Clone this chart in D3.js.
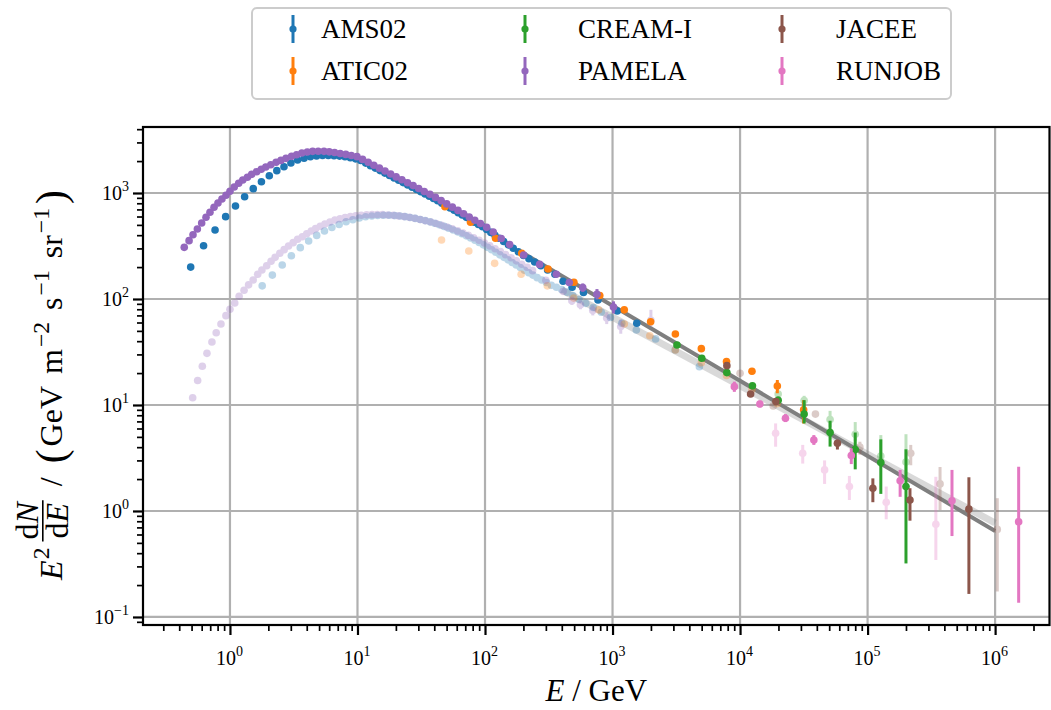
<!DOCTYPE html>
<html>
<head>
<meta charset="utf-8">
<script src="https://cdn.jsdelivr.net/npm/d3@7"></script>
<style>
  body { margin: 0; background: #fff; }
  text { font-family: "Liberation Serif", "DejaVu Serif", serif; fill: #000; }
</style>
</head>
<body>
<svg id="chart" width="1051" height="710"></svg>
<script>
// ---- data: [E (GeV), E^2 dN/dE, errLow, errHigh] ----
// protons (solid) and helium (faded)

var ams02_p = [[0.492,200],[0.621,318],[0.764,448],[0.925,598],[1.105,754],[1.303,923],[1.523,1099],[1.765,1278],
 [2.034,1456],[2.330,1624],[2.652,1770],[3.005,1918],[3.390,2047],[3.811,2124],[4.272,2200],[4.775,2235],
 [5.318,2255],[5.907,2260],[6.546,2250],[7.236,2230],[7.982,2195],[8.787,2155],[9.654,2100],[10.60,2023],
 [11.60,1914],[12.65,1812],[13.79,1717],[15.04,1626],[16.39,1541],[17.84,1462],[19.38,1387],[21.03,1318],
 [22.83,1253],[24.78,1191],[26.83,1132],[29.03,1079],[31.38,1028],[33.87,980],[36.57,933],[39.47,889],
 [42.57,845],[45.87,802],[49.42,761],[53.22,723],[57.27,687],[61.62,652],[66.32,619],[71.37,589],
 [76.77,558],[82.57,531],[88.82,505],[95.57,480],[103.1,453],[111.1,425],[119.6,399],[129.1,374],
 [140.1,349],[152.6,324],[166.6,301],[182.6,279],[200.6,257],[221.1,240],[245.1,223],[274.1,206],
 [309.6,188],[353.6,171],[409.1,147],[482.1,129],[591.6,115],[769.1,98],[1089,77],[1549,59]];

var ams02_he = [[1.79,133],[2.15,168],[2.57,209],[3.03,256],[3.56,305],[4.14,352],[4.79,398],[5.51,438],
 [6.30,472],[7.18,505],[8.14,535],[9.19,560],[10.34,580],[11.58,596],[12.94,607],[14.40,614],[15.99,617],
 [17.70,616],[19.58,612],[21.55,606],[23.63,598],[25.91,588],[28.39,576],[31.07,563],[33.96,549],[37.04,534],
 [40.33,518],[43.92,501],[47.81,484],[51.90,466],[56.29,448],[60.98,430],[65.97,412],[71.36,394],[77.16,376],
 [83.35,358],[89.95,341],[97.04,324],[104.6,307],[112.7,291],[121.4,276],[130.8,261],[140.9,247],[151.7,234],
 [163.3,221],[175.8,209],[189.3,198],[204.3,187],[220.3,177],[237.3,168],[256.3,159],[278.3,151],[303.3,143],
 [331.3,135],[363.3,129],[399.3,123],[440.3,116],[488.3,108],[546.3,99],[617.3,91],[705.3,83],[816.3,75],
 [962.3,67],[1181,59],[1536,51],[2176,42],[3096,33],[4796,23]];

var atic02_p = [[48.5,743],[77,530],[121,374],[194,270],[312,192],[498,144],[794,108],[1236,79],[1990,61],
 [3110,46.7],[4970,34],[7830,25.7,24,27.5],[12400,20.8,19.5,22.3],[19600,15.1,12.9,17.2],[31500,9.0,6.7,11.1]];

var atic02_he = [[45.6,360],[74.6,284],[119,217],[192,171],[308,133],[496,102],[779,79],[1236,58],[1960,45],
 [3110,33],[4970,25],[7830,19],[12400,14],[19600,10.3]];

var cream_p = [[3200,36.8],[5010,27.6],[7880,20.2],[12500,15.2],[19900,11.1,10.3,12.0],[31800,8.2,6.7,11.1],
 [50800,5.5,4.05,7.1],[80000,3.8,2.47,5.5],[127000,2.86,1.45,4.74],[200000,1.70,0.32,3.82]];

var cream_he = [[19900,12.7,12.0,13.5],[31800,11.0,9.7,12.2],[50800,7.3,6.2,8.8],[80000,5.3,4.6,6.9],
 [127000,3.3,2.6,5.2],[200000,2.9,2.2,5.3]];

var pamela_p = [[0.438,307],[0.478,355],[0.513,404],[0.555,458],[0.600,521],[0.649,590],[0.697,658],[0.750,733],
 [0.805,805],[0.865,878],[0.931,951],[1.0,1038],[1.08,1140],[1.17,1234],[1.26,1326],[1.37,1406],[1.48,1500],
 [1.62,1589],[1.76,1675],[1.91,1758],[2.09,1849],[2.30,1950],[2.51,2031],[2.75,2122],[3.04,2217],[3.33,2296],
 [3.66,2383],[4.04,2437],[4.45,2472],[4.92,2480],[5.46,2470],[6.0,2445],[6.61,2410],[7.31,2361],[8.09,2312],
 [8.95,2259],[9.91,2203],[10.96,2075],[12.13,1948],[13.43,1828],[14.86,1716],[16.44,1611],[18.2,1512],
 [20.1,1419],[22.3,1332],[24.7,1250],[27.3,1174],[30.2,1102],[33.4,1034],[37.0,971],[40.9,909],[45.3,847],
 [50.1,789],[55.5,735],[61.4,685],[67.9,638],[75.2,594],[83.2,553],[92.0,516],[103,474],[116,429],[134,372],
 [156,326],[201,260,252,268],[268,212,204,220],[362,171,163,180],[458,143,134,153],[584,128,117,140],
 [755,111,99,124],[1017,84,73,95]];

var pamela_he = [[0.51,11.7],[0.558,17],[0.607,23.2],[0.66,30.7],[0.722,39.3],[0.78,48],[0.85,58],[0.93,69.6],
 [1.0,80],[1.09,91.6],[1.18,106],[1.29,121],[1.40,136],[1.52,151],[1.65,171],[1.78,188],[1.94,206],[2.10,227],
 [2.26,247],[2.46,270],[2.66,292],[2.88,316],[3.13,340],[3.39,366],[3.69,387],[4.0,413],[4.34,438],[4.69,461],
 [5.10,485],[5.55,510],[6.08,532],[6.65,556],[7.3,572],[8.0,588],[8.8,600],[9.7,610],[10.7,617],[11.8,622],
 [13.0,625],[14.3,626],[15.7,625],[17.3,621],[19.1,615],[21.0,608],[23.2,599],[25.5,589],[28.1,577],[31.0,563],
 [34.1,548],[37.6,532],[41.4,515],[45.6,497],[50.2,478],[55.3,459],[61,439],[67.2,419],[74,398],[81.5,378],
 [89.8,358],[99,337],[109,317],[120,298],[132,280],[145,262],[160,245],[176,229],[194,213],[214,199],[236,185],
 [300,150,143,158],[410,118,110,127],[480,96,88,105],[560,88,80,97],[700,78,70,87],[900,66,58,75],
 [1160,55,47,64],[2000,63,55,79]];

var jacee_p = [[7880,23.5],[12100,12.7],[19100,10.8],[58000,4.35,3.8,4.7],[110000,1.64,1.21,2.03],
 [215000,1.27,0.81,1.64],[623000,1.04,0.165,2.08]];

var jacee_he = [[10000,19.9],[18200,9.8],[39000,8.2],[87000,4.0,3.4,4.5],[218000,3.5,2.7,4.2],
 [370000,1.8,1.02,2.6],[1040000,0.67,0.174,1.32]];

var runjob_p = [[9020,14.9,13.3,16.6],[14300,10.2,9.5,11],[22700,7.5,6.9,8.2],[37900,4.67,4.2,5.2],
 [74500,3.33,2.77,3.9],[180000,1.93,1.36,2.44],[459000,1.25,0.58,2.44],[1530000,0.79,0.136,2.62]];

var runjob_he = [[19000,5.4,4.04,6.7],[31000,3.5,2.8,4.2],[46000,2.44,1.8,3.0],[72000,1.70,1.27,2.14],
 [140000,1.21,0.835,1.70],[343000,0.75,0.345,2.1]];

// power-law fits, end points [E, flux]
var fit_p = [[190, 280], [1e6, 0.648]];
var fit_he = [[400, 122], [1e6, 0.77]];

var xTicks = [1, 10, 100, 1e3, 1e4, 1e5, 1e6];
var yTicks = [0.1, 1, 10, 100, 1000];

var legendNames = ["AMS02", "ATIC02", "CREAM-I", "PAMELA", "JACEE", "RUNJOB"];
var colors = {AMS02:"#1f77b4", ATIC02:"#ff7f0e", "CREAM-I":"#2ca02c", PAMELA:"#9467bd", JACEE:"#8c564b", RUNJOB:"#e377c2"};

var experiments = [
  {name:"AMS02", p:ams02_p, he:ams02_he},
  {name:"ATIC02", p:atic02_p, he:atic02_he},
  {name:"CREAM-I", p:cream_p, he:cream_he},
  {name:"PAMELA", p:pamela_p, he:pamela_he},
  {name:"JACEE", p:jacee_p, he:jacee_he},
  {name:"RUNJOB", p:runjob_p, he:runjob_he}
];

// ---- layout ----
var svg = d3.select("#chart");
var L = 143, R = 1049.5, T = 127, B = 625;
var x = d3.scaleLog().domain([0.208, 2.67e6]).range([L, R]);
var y = d3.scaleLog().domain([0.084, 4194]).range([B, T]);

svg.append("defs").append("clipPath").attr("id","plotclip")
  .append("rect").attr("x",L).attr("y",T).attr("width",R-L).attr("height",B-T);

// grid
var grid = svg.append("g");
grid.selectAll(".gx").data(xTicks).enter().append("line")
  .attr("x1",d=>x(d)).attr("x2",d=>x(d)).attr("y1",T).attr("y2",B)
  .attr("stroke","#b0b0b0").attr("stroke-width",2.2);
grid.selectAll(".gy").data(yTicks).enter().append("line")
  .attr("y1",d=>y(d)).attr("y2",d=>y(d)).attr("x1",L).attr("x2",R)
  .attr("stroke","#b0b0b0").attr("stroke-width",2.2);

var plot = svg.append("g").attr("clip-path","url(#plotclip)");

// fit lines
var line = d3.line().x(d=>x(d[0])).y(d=>y(d[1]));
plot.append("path").datum(fit_he).attr("d",line).attr("fill","none")
  .attr("stroke","#808080").attr("stroke-opacity",0.3).attr("stroke-width",7);
plot.append("path").datum(fit_p).attr("d",line).attr("fill","none")
  .attr("stroke","#7f7f7f").attr("stroke-width",4);

function drawSeries(data, color, alpha){
  var g = plot.append("g").attr("opacity", alpha);
  var bars = data.filter(d=>d.length > 2);
  g.selectAll("line").data(bars).enter().append("line")
    .attr("x1",d=>x(d[0])).attr("x2",d=>x(d[0]))
    .attr("y1",d=>y(d[2])).attr("y2",d=>y(d[3]))
    .attr("stroke",color).attr("stroke-width",3);
  g.selectAll("circle").data(data).enter().append("circle")
    .attr("cx",d=>x(d[0])).attr("cy",d=>y(d[1])).attr("r",3.8)
    .attr("fill",color);
}
experiments.forEach(function(e){ drawSeries(e.he, colors[e.name], 0.3); });
experiments.forEach(function(e){ drawSeries(e.p, colors[e.name], 1); });

// ---- axes ----
function minors(lo, hi){
  var out = [];
  for (var k = lo; k <= hi; k++) for (var m = 2; m <= 9; m++) out.push(m*Math.pow(10,k));
  return out;
}
var xMinor = minors(-1, 6).filter(v=>v>=0.208 && v<=2.67e6);
var yMinor = minors(-2, 3).filter(v=>v>=0.084 && v<=4194);

var gxMin = svg.append("g").attr("transform","translate(0,"+B+")")
  .call(d3.axisBottom(x).tickValues(xMinor).tickSize(6).tickFormat(""));
var gyMin = svg.append("g").attr("transform","translate("+L+",0)")
  .call(d3.axisLeft(y).tickValues(yMinor).tickSize(6).tickFormat(""));
[gxMin, gyMin].forEach(function(g){
  g.select(".domain").remove();
  g.selectAll("line").attr("stroke","#000").attr("stroke-width",1.7);
});

var gx = svg.append("g").attr("transform","translate(0,"+B+")")
  .call(d3.axisBottom(x).tickValues(xTicks).tickSize(10).tickFormat(""));
var gy = svg.append("g").attr("transform","translate("+L+",0)")
  .call(d3.axisLeft(y).tickValues(yTicks).tickSize(10).tickFormat(""));
[gx, gy].forEach(function(g){
  g.select(".domain").remove();
  g.selectAll("line").attr("stroke","#000").attr("stroke-width",2.2);
});

function powLabel(sel, d){
  var e = Math.round(Math.log10(d));
  sel.text("10");
  sel.append("tspan").attr("dy",-9).attr("font-size",14).text(e < 0 ? "\u2212" + (-e) : e);
}
gx.selectAll(".tick").append("text")
  .attr("y",40).attr("x",-1).attr("text-anchor","middle").attr("font-size",20)
  .each(function(d){ powLabel(d3.select(this), d); });
gy.selectAll(".tick").append("text")
  .attr("x",-14).attr("dy","0.35em").attr("text-anchor","end").attr("font-size",20)
  .each(function(d){ powLabel(d3.select(this), d); });

// frame
svg.append("rect").attr("x",L).attr("y",T).attr("width",R-L).attr("height",B-T)
  .attr("fill","none").attr("stroke","#000").attr("stroke-width",2.2);

// x label
var xl = svg.append("text").attr("x",(L+R)/2).attr("y",701).attr("text-anchor","middle").attr("font-size",31);
xl.append("tspan").attr("font-style","italic").text("E");
xl.append("tspan").text(" / GeV");

// y label: E^2 dN/dE / (GeV m^-2 s^-1 sr^-1)
(function(){
  var S = 32, SS = S*0.74;
  var g = svg.append("g");
  var cx = 0;
  function put(str, o){
    o = o || {};
    var t = g.append("text").attr("x",cx).attr("y",o.y||0).attr("font-size",o.size||S)
      .attr("font-style",o.italic?"italic":"normal").text(str);
    cx += t.node().getComputedTextLength() + (o.gap||0);
    return t;
  }
  put("E",{italic:true, gap:1});
  put("2",{size:SS, y:-S*0.42, gap:6});
  // fraction
  var fx = cx;
  var num = g.append("text").attr("y",-S*0.74).attr("font-size",S);
  num.append("tspan").text("d"); num.append("tspan").attr("font-style","italic").text("N");
  var den = g.append("text").attr("y",S*0.18).attr("font-size",S);
  den.append("tspan").text("d"); den.append("tspan").attr("font-style","italic").text("E");
  var wn = num.node().getComputedTextLength(), wd = den.node().getComputedTextLength();
  var w = Math.max(wn, wd) + 4;
  num.attr("x", fx + (w-wn)/2); den.attr("x", fx + (w-wd)/2);
  g.append("line").attr("x1",fx).attr("x2",fx+w).attr("y1",-S*0.6).attr("y2",-S*0.6)
    .attr("stroke","#000").attr("stroke-width",1.6);
  cx += w + 14;
  put("/",{gap:14});
  put("(",{size:S*1.3, y:S*0.1, gap:3});
  put("GeV",{gap:12});
  put("m",{gap:2});
  put("\u22122",{size:SS, y:-S*0.42, gap:12});
  put("s",{gap:2});
  put("\u22121",{size:SS, y:-S*0.42, gap:12});
  put("sr",{gap:2});
  put("\u22121",{size:SS, y:-S*0.42, gap:4});
  put(")",{size:S*1.3, y:S*0.1});
  g.attr("transform","translate(62,385) rotate(-90) translate("+(-cx/2)+",0)");
})();

// ---- legend ----
var lg = svg.append("g");
lg.append("rect").attr("x",252).attr("y",8).attr("width",699).attr("height",91).attr("rx",5)
  .attr("fill","#fff").attr("fill-opacity",0.8).attr("stroke","#cccccc").attr("stroke-width",2);
var colX = [293, 525, 782], txtX = [321, 578, 836], rowY = [29, 71];
legendNames.forEach(function(n, i){
  var c = Math.floor(i/2), r = i%2;
  var mx = colX[c], my = rowY[r];
  lg.append("line").attr("x1",mx).attr("x2",mx).attr("y1",my-14).attr("y2",my+14)
    .attr("stroke",colors[n]).attr("stroke-width",3);
  lg.append("circle").attr("cx",mx).attr("cy",my).attr("r",3.6).attr("fill",colors[n]);
  lg.append("text").attr("x",txtX[c]).attr("y",my).attr("dy","0.35em").attr("font-size",27).text(n);
});
</script>
</body>
</html>
